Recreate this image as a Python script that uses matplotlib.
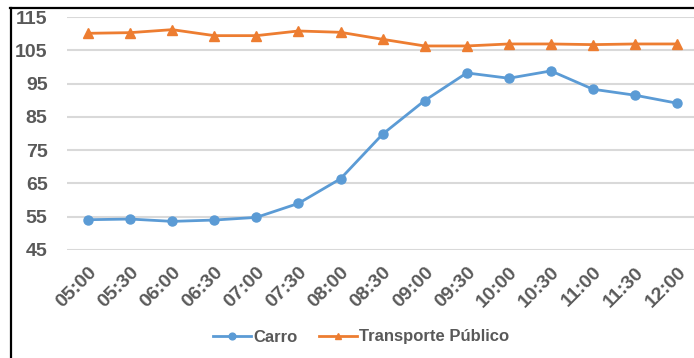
import matplotlib
matplotlib.use("Agg")
import matplotlib.pyplot as plt
from matplotlib.lines import Line2D

# half-hour slots from 05:00 to 12:00
horarios = ["05:00", "05:30", "06:00", "06:30", "07:00", "07:30", "08:00", "08:30",
            "09:00", "09:30", "10:00", "10:30", "11:00", "11:30", "12:00"]
carro = [54.1, 54.3, 53.6, 54.0, 54.8, 59.0, 66.4, 79.8,
         89.9, 98.2, 96.6, 98.8, 93.3, 91.5, 89.1]
transporte_publico = [110.1, 110.3, 111.2, 109.4, 109.4, 110.8, 110.4, 108.3,
                      106.3, 106.3, 106.9, 106.9, 106.7, 106.9, 106.9]
y_ticks = [45, 55, 65, 75, 85, 95, 105, 115]

plt.rcParams['font.family'] = ['Liberation Sans', 'DejaVu Sans']
TEXT_GRAY = "#595959"
W, H = 694, 358

fig = plt.figure(figsize=(W / 100, H / 100), dpi=100)
# axes placed in pixel terms: left 67, top 17, bottom 250, runs off the right edge
ax = fig.add_axes([67 / W, 1 - 250 / H, 1 - 67 / W, (250 - 17) / H])

x = list(range(len(horarios)))
ax.plot(x, carro, color="#5B9BD5", lw=2.0, marker="o", ms=6.5, label="Carro")
ax.plot(x, transporte_publico, color="#ED7D31", lw=2.0, marker="^", ms=6.5,
        label="Transporte Público")

ax.set_xlim(-0.5, 14.4)
ax.set_ylim(45, 115)
ax.set_yticks(y_ticks)
ax.set_xticks(x)
ax.set_xticklabels(horarios, rotation=45, ha="right", rotation_mode="anchor")
ax.grid(axis="y", color="#d9d9d9", lw=1.5)
ax.set_axisbelow(True)
for s in ax.spines.values():
    s.set_visible(False)
ax.tick_params(axis="y", length=0, pad=14, labelsize=14, labelcolor=TEXT_GRAY)
ax.tick_params(axis="x", length=0, pad=10, labelsize=14, labelcolor=TEXT_GRAY)
for lab in ax.get_xticklabels() + ax.get_yticklabels():
    lab.set_fontweight("bold")

leg = fig.legend(loc="center", bbox_to_anchor=(361 / W, 1 - 337 / H), ncol=2,
                 frameon=False, handlelength=2.3, handletextpad=0.1, markerscale=0.75,
                 columnspacing=1.3, prop={"weight": "bold", "size": 12})
for t in leg.get_texts():
    t.set_color(TEXT_GRAY)

# black frame of the original screenshot (top and left only)
fig.add_artist(Line2D([10 / W, 1], [1 - 8 / H, 1 - 8 / H], color="black", lw=1.6))
fig.add_artist(Line2D([11 / W, 11 / W], [0, 1 - 8 / H], color="black", lw=1.6))

fig.savefig("out.png", dpi=100)
